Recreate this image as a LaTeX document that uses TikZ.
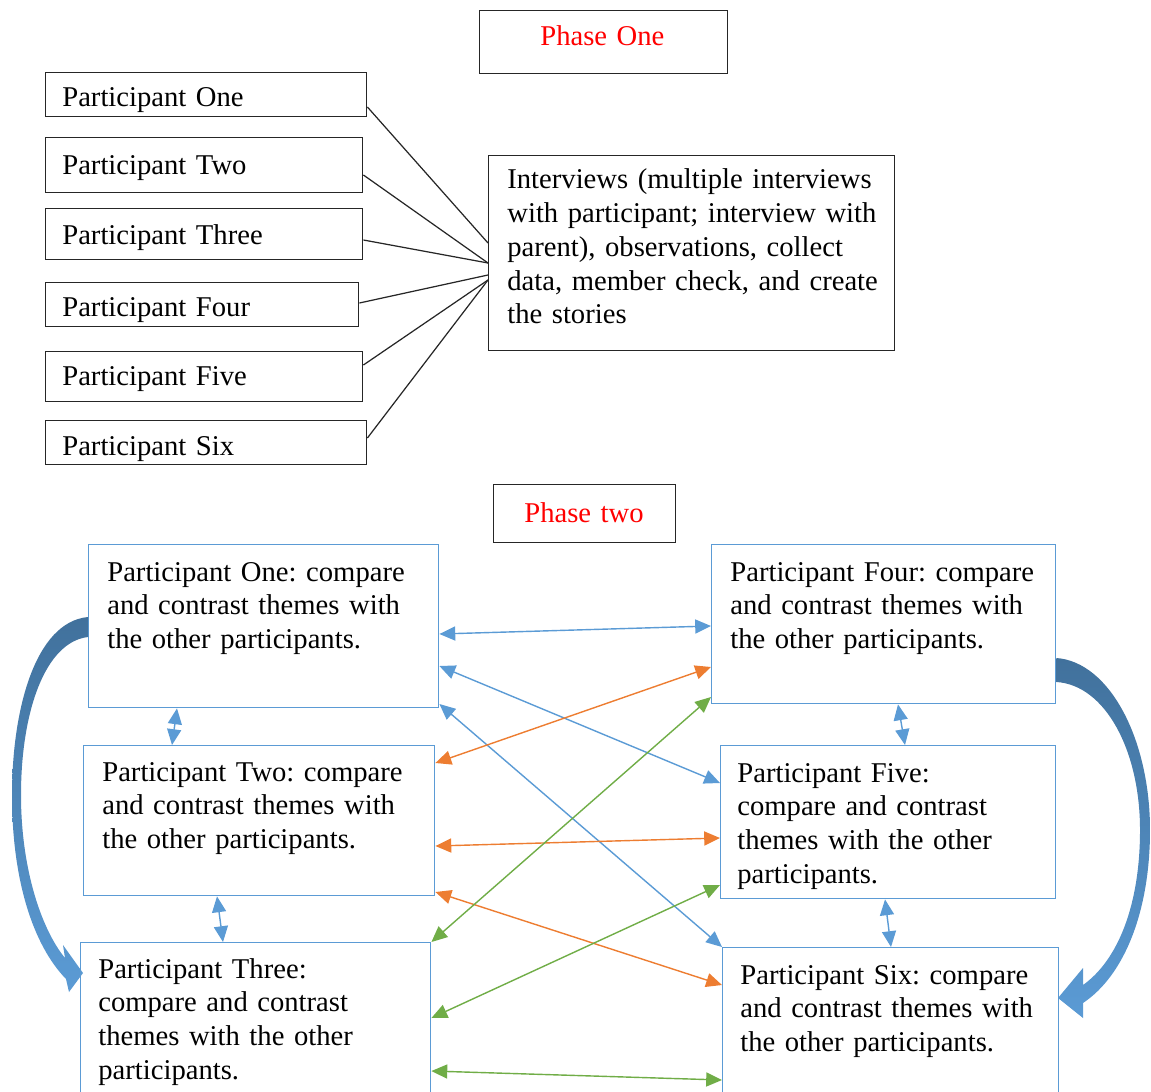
\documentclass[tikz,border=0pt]{standalone}
\usepackage{fontspec}
\setmainfont{Liberation Serif}
\usepackage{tikz}
\usetikzlibrary{arrows.meta}
\definecolor{boxblue}{RGB}{91,155,213}
\definecolor{lineorange}{RGB}{237,125,49}
\definecolor{linegreen}{RGB}{112,173,71}
\definecolor{arrowdark}{RGB}{65,113,156}
\definecolor{phasered}{RGB}{255,0,0}
\frenchspacing

\begin{document}
\begin{tikzpicture}[x=0.02cm, y=-0.02cm,
    blkbox/.style={draw=black!85, line width=0.8pt, anchor=north west, inner sep=0pt},
    bluebox/.style={draw=boxblue, line width=0.8pt, anchor=north west, inner sep=0pt},
    sz/.style 2 args={minimum width=#1*0.02cm, minimum height=#2*0.02cm},
    txt/.style={anchor=base west, inner sep=0pt, text width=8cm, align=left,
        font=\fontsize{16.3}{19.2}\selectfont},
    link/.style={draw=black!85, line width=0.7pt},
    twoway/.style={draw=#1, line width=0.8pt, >={Triangle[length=9pt,width=8pt]}, <->},
    bigarrow/.style={top color=arrowdark, bottom color=boxblue, draw=none}]

    \path[use as bounding box, clip] (0,0) rectangle (1151,1091);

    % Phase one
    \node[blkbox, sz={248}{63}] (ph1) at (479,10) {};
    \node[txt, text=phasered] (ph1t) at (540,46) {Phase One};

    \node[blkbox, sz={321}{44}] (a1) at (45,72) {};
    \node[blkbox, sz={317}{55}] (a2) at (45,137) {};
    \node[blkbox, sz={317}{51}] (a3) at (45,208) {};
    \node[blkbox, sz={313}{44}] (a4) at (45,282) {};
    \node[blkbox, sz={317}{50}] (a5) at (45,351) {};
    \node[blkbox, sz={321}{44}] (a6) at (45,420) {};
    \node[txt] (a1t) at (62,107) {Participant One};
    \node[txt] (a2t) at (62,174) {Participant Two};
    \node[txt] (a3t) at (62,244) {Participant Three};
    \node[txt] (a4t) at (62,316) {Participant Four};
    \node[txt] (a5t) at (62,385) {Participant Five};
    \node[txt] (a6t) at (62,455) {Participant Six};

    \node[blkbox, sz={406}{195}] (iv) at (488,155) {};
    \node[txt] (ivt) at (507,189) {Interviews (multiple interviews\\
        with participant; interview with\\ parent), observations, collect\\
        data, member check, and create\\ the stories};

    \draw[link] (a1.east |- 0,107) -- (iv.west |- 0,243);
    \draw[link] (a2.east |- 0,175) -- (iv.west |- 0,263);
    \draw[link] (a3.east |- 0,240) -- (iv.west |- 0,263);
    \draw[link] (a4.east |- 0,303) -- (iv.west |- 0,275);
    \draw[link] (a5.east |- 0,365) -- (iv.west |- 0,280);
    \draw[link] (a6.east |- 0,438) -- (iv.west |- 0,280);

    % Phase two
    \node[blkbox, sz={182}{58}] (ph2) at (493,484) {};
    \node[txt, text=phasered] (ph2t) at (524,522) {Phase two};

    \node[bluebox, sz={350}{163}] (b1) at (88,544) {};
    \node[bluebox, sz={351}{150}] (b2) at (83,745) {};
    \node[bluebox, sz={350}{160}] (b3) at (80,942) {};
    \node[bluebox, sz={344}{159}] (b4) at (711,544) {};
    \node[bluebox, sz={335}{153}] (b5) at (720,745) {};
    \node[bluebox, sz={336}{155}] (b6) at (722,947) {};

    \node[txt] (b1t) at (107,581) {Participant One: compare\\ and contrast themes with\\ the other participants.};
    \node[txt] (b2t) at (102,781) {Participant Two: compare\\ and contrast themes with\\ the other participants.};
    \node[txt] (b3t) at (98,978) {Participant Three:\\ compare and contrast\\ themes with the other\\ participants.};
    \node[txt] (b4t) at (730,581) {Participant Four: compare\\ and contrast themes with\\ the other participants.};
    \node[txt] (b5t) at (737,782) {Participant Five:\\ compare and contrast\\ themes with the other\\ participants.};
    \node[txt] (b6t) at (740,984) {Participant Six: compare\\ and contrast themes with\\ the other participants.};

    % blue links
    \draw[twoway=boxblue] (b1.east |- 0,634) -- (b4.west |- 0,626);
    \draw[twoway=boxblue] (b1.east |- 0,666) -- (b5.west |- 0,783);
    \draw[twoway=boxblue] (b1.east |- 0,704) -- (b6.north west);
    \draw[twoway=boxblue] (b1.south -| 177,0) -- (b2.north -| 172,0);
    \draw[twoway=boxblue] (b2.south -| 217,0) -- (b3.north -| 223,0);
    \draw[twoway=boxblue] (b4.south -| 898,0) -- (b5.north -| 905,0);
    \draw[twoway=boxblue] (b5.south -| 885,0) -- (b6.north -| 891,0);

    % orange links
    \draw[twoway=lineorange] (b2.east |- 0,763) -- (b4.west |- 0,667);
    \draw[twoway=lineorange] (b2.east |- 0,846) -- (b5.west |- 0,838);
    \draw[twoway=lineorange] (b2.east |- 0,892) -- (b6.west |- 0,985);

    % green links
    \draw[twoway=linegreen] (b3.north east) -- (b4.west |- 0,697);
    \draw[twoway=linegreen] (b3.east |- 0,1018) -- (b5.west |- 0,885);
    \draw[twoway=linegreen] (b3.east |- 0,1071) -- (b6.west |- 0,1080);

    % curved arrows
    \path[bigarrow] (b1.west |- 0,617) .. controls (35,622) and (12,710) .. (12,795)
        .. controls (12,880) and (33,945) .. (66,979)
        -- (69,992) -- (83,973) -- (63,945) -- (65,958)
        .. controls (42,930) and (21,870) .. (21,795)
        .. controls (21,712) and (45,642) .. (b1.west |- 0,637) -- cycle;
    \path[bigarrow] (b4.east |- 0,658) .. controls (1110,662) and (1150,740) .. (1150,830)
        .. controls (1150,910) and (1125,975) .. (1083,1003)
        -- (1083,1018) -- (1058,998) -- (1083,968) -- (1083,985)
        .. controls (1118,960) and (1140,905) .. (1140,830)
        .. controls (1140,750) and (1105,685) .. (b4.east |- 0,682) -- cycle;
\end{tikzpicture}
\end{document}
